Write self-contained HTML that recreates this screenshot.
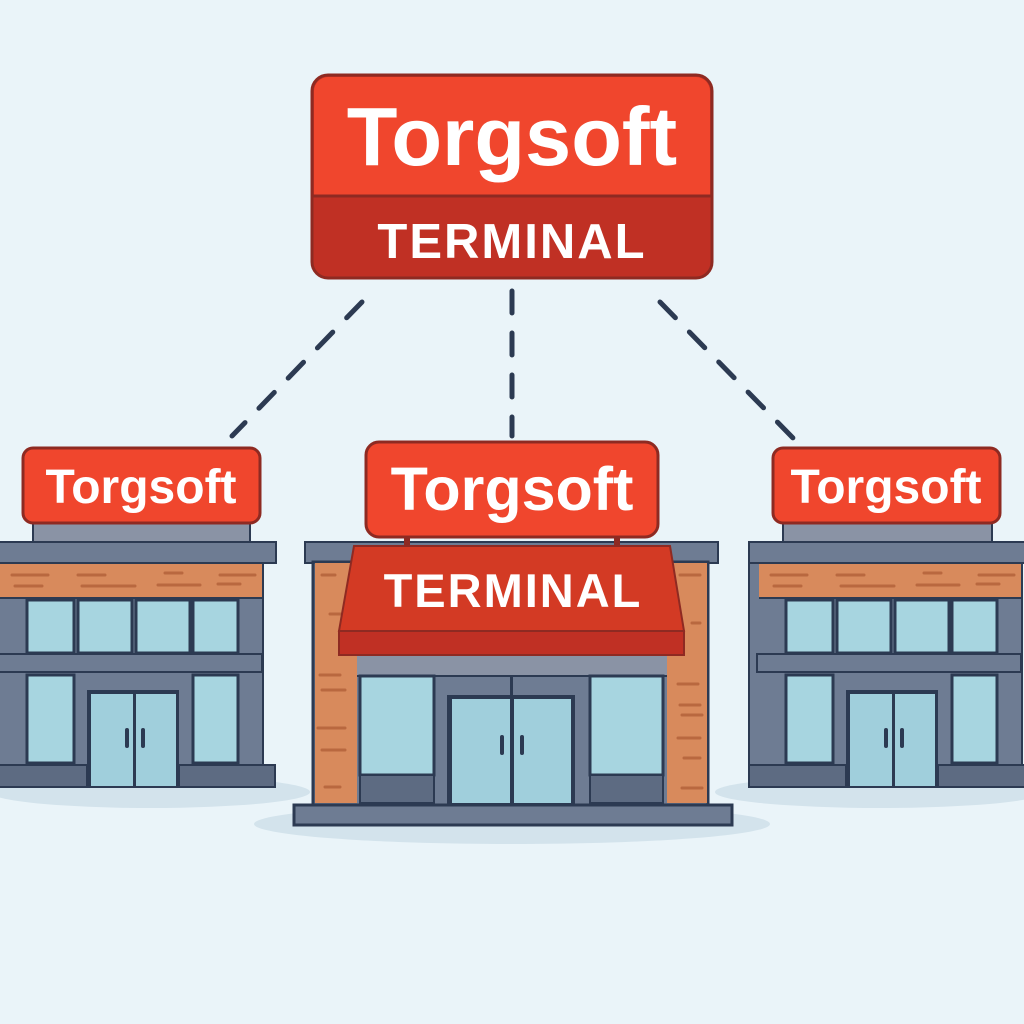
<!DOCTYPE html>
<html><head><meta charset="utf-8"><style>
html,body{margin:0;padding:0;background:#eaf4f9;}
svg{display:block;}
text{font-family:"Liberation Sans",sans-serif;font-weight:bold;fill:#fff;}
</style></head><body>
<svg width="1024" height="1024" viewBox="0 0 1024 1024" xmlns="http://www.w3.org/2000/svg">
<rect width="1024" height="1024" fill="#eaf4f9"/>
<ellipse cx="150" cy="792" rx="160" ry="16" fill="#d3e3ec"/>
<ellipse cx="880" cy="792" rx="165" ry="16" fill="#d3e3ec"/>
<ellipse cx="512" cy="824" rx="258" ry="20" fill="#d3e3ec"/>

<g stroke="#2c3a52" stroke-width="5" stroke-linecap="round" stroke-dasharray="22 20" fill="none">
<line x1="362" y1="302" x2="232" y2="436"/>
<line x1="512" y1="291" x2="512" y2="436"/>
<line x1="660" y1="302" x2="795" y2="440"/>
</g>

<rect x="312" y="75" width="400" height="203" rx="16" fill="#c03024" stroke="#8e2a22" stroke-width="3"/>
<path d="M314,196 V91 a14,14 0 0 1 14,-14 H696 a14,14 0 0 1 14,14 V196 Z" fill="#f0462d"/>
<line x1="313" y1="196" x2="711" y2="196" stroke="#8e2a22" stroke-width="3"/>
<text x="512" y="165" font-size="83" text-anchor="middle">Torgsoft</text>
<text x="512" y="258" font-size="49" text-anchor="middle" letter-spacing="2">TERMINAL</text>

<rect x="33" y="520" width="217" height="23" fill="#8a93a5" stroke="#2c3a52" stroke-width="2"/>
<rect x="783" y="520" width="209" height="23" fill="#8a93a5" stroke="#2c3a52" stroke-width="2"/>
<g id="side">
<rect x="-10" y="542" width="286" height="21" fill="#6e7c93" stroke="#2c3a52" stroke-width="2"/>
<rect x="-10" y="563" width="273" height="205" fill="#6e7c93" stroke="#2c3a52" stroke-width="2"/>
<rect x="0" y="564" width="262" height="33" fill="#d88a5c"/>
<g stroke="#b9683f" stroke-width="3" stroke-linecap="round">
<line x1="12" y1="575" x2="48" y2="575"/><line x1="78" y1="575" x2="105" y2="575"/><line x1="165" y1="573" x2="182" y2="573"/><line x1="220" y1="575" x2="255" y2="575"/>
<line x1="15" y1="586" x2="42" y2="586"/><line x1="82" y1="586" x2="135" y2="586"/><line x1="158" y1="585" x2="200" y2="585"/><line x1="218" y1="584" x2="240" y2="584"/>
</g>
<rect x="0" y="597" width="262" height="2" fill="#2c3a52"/>
<g fill="#a7d5e0" stroke="#2c3a52" stroke-width="3">
<rect x="27" y="600" width="47" height="53"/><rect x="78" y="600" width="54" height="53"/><rect x="136" y="600" width="54" height="53"/><rect x="193" y="600" width="45" height="53"/>
</g>
<rect x="-2" y="654" width="264" height="18" fill="#6e7c93" stroke="#2c3a52" stroke-width="2"/>
<g fill="#a7d5e0" stroke="#2c3a52" stroke-width="3">
<rect x="27" y="675" width="47" height="88"/><rect x="193" y="675" width="45" height="88"/>
</g>
<rect x="87" y="690" width="92" height="96" fill="#2c3a52"/>
<rect x="91" y="694" width="42" height="92" fill="#a0cfdc"/><rect x="136" y="694" width="40" height="92" fill="#a0cfdc"/>
<rect x="125" y="728" width="4" height="20" rx="2" fill="#2c3a52"/><rect x="141" y="728" width="4" height="20" rx="2" fill="#2c3a52"/>
<rect x="-10" y="765" width="97" height="22" fill="#5d6b82" stroke="#2c3a52" stroke-width="2"/>
<rect x="179" y="765" width="96" height="22" fill="#5d6b82" stroke="#2c3a52" stroke-width="2"/>
<rect x="-10" y="786" width="286" height="2" fill="#2c3a52"/>
</g>
<rect x="23" y="448" width="237" height="75" rx="10" fill="#f0462d" stroke="#8e2a22" stroke-width="3"/>
<text x="141" y="503" font-size="48" text-anchor="middle">Torgsoft</text>

<use href="#side" transform="translate(759,0)"/>
<rect x="773" y="448" width="227" height="75" rx="10" fill="#f0462d" stroke="#8e2a22" stroke-width="3"/>
<text x="886" y="503" font-size="48" text-anchor="middle">Torgsoft</text>

<rect x="305" y="542" width="413" height="21" fill="#6e7c93" stroke="#2c3a52" stroke-width="2"/>
<rect x="313" y="562" width="395" height="243" fill="#6e7c93" stroke="#2c3a52" stroke-width="3"/>
<rect x="315" y="563" width="42" height="240" fill="#d88a5c"/>
<rect x="667" y="563" width="40" height="240" fill="#d88a5c"/>
<g stroke="#b9683f" stroke-width="3" stroke-linecap="round">
<line x1="322" y1="575" x2="335" y2="575"/><line x1="330" y1="614" x2="345" y2="614"/><line x1="320" y1="675" x2="340" y2="675"/><line x1="322" y1="690" x2="345" y2="690"/><line x1="318" y1="728" x2="345" y2="728"/><line x1="322" y1="750" x2="345" y2="750"/><line x1="325" y1="787" x2="340" y2="787"/>
<line x1="680" y1="575" x2="700" y2="575"/><line x1="692" y1="623" x2="700" y2="623"/><line x1="678" y1="684" x2="698" y2="684"/><line x1="680" y1="705" x2="700" y2="705"/><line x1="682" y1="715" x2="702" y2="715"/><line x1="678" y1="738" x2="700" y2="738"/><line x1="684" y1="758" x2="700" y2="758"/><line x1="682" y1="788" x2="702" y2="788"/>
</g>
<rect x="357" y="655" width="310" height="20" fill="#8a93a5"/>
<rect x="357" y="675" width="310" height="2" fill="#2c3a52"/>
<g fill="#a7d5e0" stroke="#2c3a52" stroke-width="3">
<rect x="360" y="676" width="74" height="99"/><rect x="590" y="676" width="73" height="99"/>
</g>
<rect x="360" y="775" width="74" height="28" fill="#5d6b82" stroke="#2c3a52" stroke-width="2"/>
<rect x="590" y="775" width="73" height="28" fill="#5d6b82" stroke="#2c3a52" stroke-width="2"/>
<rect x="510" y="676" width="3" height="20" fill="#2c3a52"/>
<rect x="447" y="695" width="128" height="110" fill="#2c3a52"/>
<rect x="452" y="699" width="58" height="104" fill="#a0cfdc"/><rect x="514" y="699" width="57" height="104" fill="#a0cfdc"/>
<rect x="500" y="735" width="4" height="20" rx="2" fill="#2c3a52"/><rect x="520" y="735" width="4" height="20" rx="2" fill="#2c3a52"/>
<rect x="294" y="805" width="438" height="20" fill="#6e7c93" stroke="#2c3a52" stroke-width="3"/>
<rect x="404" y="535" width="6" height="14" fill="#8e2a22"/><rect x="614" y="535" width="6" height="14" fill="#8e2a22"/>
<path d="M354,546 H670 L684,631 H339 Z" fill="#d33a24" stroke="#8e2a22" stroke-width="2"/>
<rect x="339" y="631" width="345" height="24" fill="#c03024" stroke="#8e2a22" stroke-width="2"/>
<text x="513" y="607" font-size="47" text-anchor="middle" letter-spacing="2">TERMINAL</text>
<rect x="366" y="442" width="292" height="95" rx="13" fill="#f0462d" stroke="#8e2a22" stroke-width="3"/>
<text x="512" y="510" font-size="61" text-anchor="middle">Torgsoft</text>
</svg>
</body></html>
